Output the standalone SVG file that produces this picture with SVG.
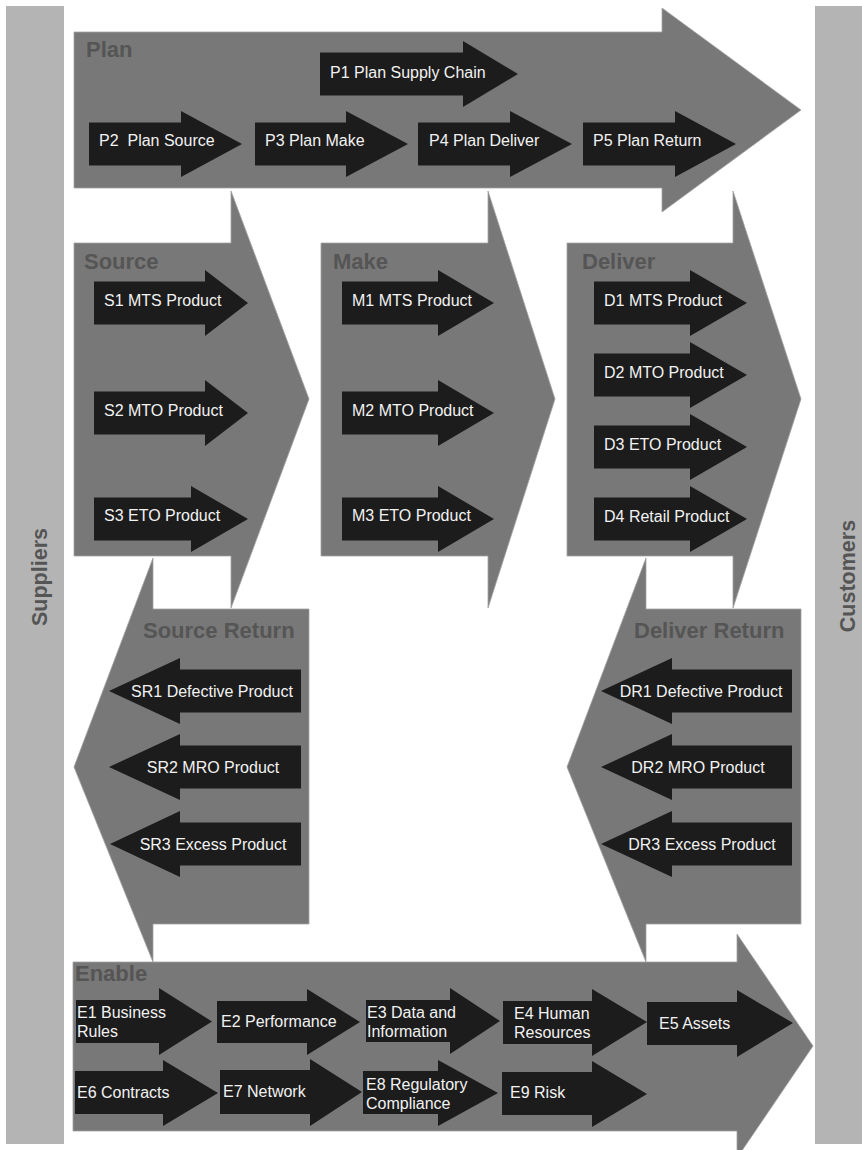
<svg xmlns="http://www.w3.org/2000/svg" width="862" height="1150" viewBox="0 0 862 1150">
<style>
.bar{fill:#b4b4b4}
.blk{fill:#787878;stroke:#a2a2a2;stroke-width:0.8}
.arr{fill:#1c1c1c}
.t{font-family:"Liberation Sans",Arial,sans-serif;font-size:16px;fill:#f2f2f2}
.mid{text-anchor:middle}
.ttl{font-family:"Liberation Sans",Arial,sans-serif;font-size:22px;font-weight:bold;fill:#555555}
.side{font-family:"Liberation Sans",Arial,sans-serif;font-size:21.5px;font-weight:bold;fill:#555555;text-anchor:middle}
</style>
<rect width="862" height="1150" fill="#ffffff"/>
<g id="suppliers"><rect class="bar" x="6" y="6" width="58" height="1138"/><text class="side" transform="translate(47,577) rotate(-90)">Suppliers</text></g>
<g id="customers"><rect class="bar" x="815" y="6" width="58" height="1138"/><text class="side" transform="translate(855,576) rotate(-90)">Customers</text></g>

<g id="plan"><polygon class="blk" points="74,32 662,32 662,8 801,110 662,212 662,188 74,188"/><text class="ttl" x="86" y="57">Plan</text></g>
<g id="source"><polygon class="blk" points="74,243 231,243 231,191 309,399 231,608 231,556 74,556"/><text class="ttl" x="84" y="269">Source</text></g>
<g id="make"><polygon class="blk" points="321,243 488,243 488,191 555,399 488,608 488,556 321,556"/><text class="ttl" x="333" y="269">Make</text></g>
<g id="deliver"><polygon class="blk" points="567,243 733,243 733,191 801,399 733,608 733,556 567,556"/><text class="ttl" x="582" y="269">Deliver</text></g>
<g id="source-return"><polygon class="blk" points="309,609 153,609 153,558 74,767 153,962 153,924 309,924"/><text class="ttl" x="143" y="638">Source Return</text></g>
<g id="deliver-return"><polygon class="blk" points="801,609 646,609 646,558 567,767 646,962 646,924 801,924"/><text class="ttl" x="634" y="638">Deliver Return</text></g>
<g id="enable"><polygon class="blk" points="73,962 737,962 737,934 813,1046 737,1158 737,1131 73,1131"/><text class="ttl" x="75" y="981">Enable</text></g>

<g id="P1"><polygon class="arr" points="320,52.5 463,52.5 463,41 518,74 463,107 463,95.5 320,95.5"/><text class="t" x="330" y="78">P1 Plan Supply Chain</text></g>
<g id="P2"><polygon class="arr" points="89,122.5 181,122.5 181,111 242,144 181,177 181,165.5 89,165.5"/><text class="t" x="99" y="146" xml:space="preserve">P2  Plan Source</text></g>
<g id="P3"><polygon class="arr" points="255,122.5 346,122.5 346,111 408,144 346,177 346,165.5 255,165.5"/><text class="t" x="265" y="146">P3 Plan Make</text></g>
<g id="P4"><polygon class="arr" points="418,122.5 510,122.5 510,111 572,144 510,177 510,165.5 418,165.5"/><text class="t" x="429" y="146">P4 Plan Deliver</text></g>
<g id="P5"><polygon class="arr" points="583,122.5 675,122.5 675,111 736,144 675,177 675,165.5 583,165.5"/><text class="t" x="593" y="146">P5 Plan Return</text></g>

<g id="S1"><polygon class="arr" points="94,281.5 205,281.5 205,270 248,303 205,336 205,324.5 94,324.5"/><text class="t" x="104" y="306">S1 MTS Product</text></g>
<g id="S2"><polygon class="arr" points="94,391.5 205,391.5 205,380 248,413 205,446 205,434.5 94,434.5"/><text class="t" x="104" y="416">S2 MTO Product</text></g>
<g id="S3"><polygon class="arr" points="94,497.5 191,497.5 191,486 248,519 191,552 191,540.5 94,540.5"/><text class="t" x="104" y="521">S3 ETO Product</text></g>

<g id="M1"><polygon class="arr" points="342,281.5 438,281.5 438,270 494,303 438,336 438,324.5 342,324.5"/><text class="t" x="352" y="306">M1 MTS Product</text></g>
<g id="M2"><polygon class="arr" points="342,391.5 438,391.5 438,380 494,413 438,446 438,434.5 342,434.5"/><text class="t" x="352" y="416">M2 MTO Product</text></g>
<g id="M3"><polygon class="arr" points="342,497.5 438,497.5 438,486 494,519 438,552 438,540.5 342,540.5"/><text class="t" x="352" y="521">M3 ETO Product</text></g>

<g id="D1"><polygon class="arr" points="594,281.5 690,281.5 690,270 747,303 690,336 690,324.5 594,324.5"/><text class="t" x="604" y="306">D1 MTS Product</text></g>
<g id="D2"><polygon class="arr" points="594,353.5 690,353.5 690,342 747,375 690,408 690,396.5 594,396.5"/><text class="t" x="604" y="378">D2 MTO Product</text></g>
<g id="D3"><polygon class="arr" points="594,425.5 690,425.5 690,414 747,447 690,480 690,468.5 594,468.5"/><text class="t" x="604" y="450">D3 ETO Product</text></g>
<g id="D4"><polygon class="arr" points="594,497.5 690,497.5 690,486 747,519 690,552 690,540.5 594,540.5"/><text class="t" x="604" y="522">D4 Retail Product</text></g>

<g id="SR1"><polygon class="arr" points="301,669.5 180,669.5 180,658 109,691 180,724 180,712.5 301,712.5"/><text class="t mid" x="212" y="697">SR1 Defective Product</text></g>
<g id="SR2"><polygon class="arr" points="301,745.5 180,745.5 180,734 109,767 180,800 180,788.5 301,788.5"/><text class="t mid" x="213" y="773">SR2 MRO Product</text></g>
<g id="SR3"><polygon class="arr" points="301,822.5 180,822.5 180,811 110,844 180,877 180,865.5 301,865.5"/><text class="t mid" x="213" y="850">SR3 Excess Product</text></g>

<g id="DR1"><polygon class="arr" points="792,669.5 672,669.5 672,658 601,691 672,724 672,712.5 792,712.5"/><text class="t mid" x="701" y="697">DR1 Defective Product</text></g>
<g id="DR2"><polygon class="arr" points="792,745.5 672,745.5 672,734 601,767 672,800 672,788.5 792,788.5"/><text class="t mid" x="698" y="773">DR2 MRO Product</text></g>
<g id="DR3"><polygon class="arr" points="792,822.5 672,822.5 672,811 601,844 672,877 672,865.5 792,865.5"/><text class="t mid" x="702" y="850">DR3 Excess Product</text></g>

<g id="E1"><polygon class="arr" points="76,1000 159,1000 159,988 212,1021.5 159,1055 159,1043 76,1043"/><text class="t" x="77" y="1018">E1 Business<tspan x="77" y="1037">Rules</tspan></text></g>
<g id="E2"><polygon class="arr" points="217,1001 307,1001 307,989 360,1022 307,1055 307,1043 217,1043"/><text class="t" x="221" y="1027">E2 Performance</text></g>
<g id="E3"><polygon class="arr" points="366,1000 450,1000 450,988 500,1021 450,1054 450,1042 366,1042"/><text class="t" x="367" y="1018">E3 Data and<tspan x="367" y="1037">Information</tspan></text></g>
<g id="E4"><polygon class="arr" points="503,1001 592,1001 592,989 647,1022 592,1056 592,1044 503,1044"/><text class="t" x="514" y="1019">E4 Human<tspan x="514" y="1038">Resources</tspan></text></g>
<g id="E5"><polygon class="arr" points="647,1002 737,1002 737,990 793,1023 737,1057 737,1045 647,1045"/><text class="t" x="659" y="1029">E5 Assets</text></g>
<g id="E6"><polygon class="arr" points="75,1071 163,1071 163,1060 218,1093 163,1126 163,1114 75,1114"/><text class="t" x="77" y="1098">E6 Contracts</text></g>
<g id="E7"><polygon class="arr" points="220,1070 310,1070 310,1059 362,1092 310,1126 310,1114 220,1114"/><text class="t" x="223" y="1097">E7 Network</text></g>
<g id="E8"><polygon class="arr" points="363,1071 438,1071 438,1060 498,1093 438,1126 438,1114 363,1114"/><text class="t" x="366" y="1090">E8 Regulatory<tspan x="366" y="1109">Compliance</tspan></text></g>
<g id="E9"><polygon class="arr" points="502,1072 592,1072 592,1061 647,1094 592,1127 592,1115 502,1115"/><text class="t" x="510" y="1098">E9 Risk</text></g>

<g id="connectors"></g>
</svg>
